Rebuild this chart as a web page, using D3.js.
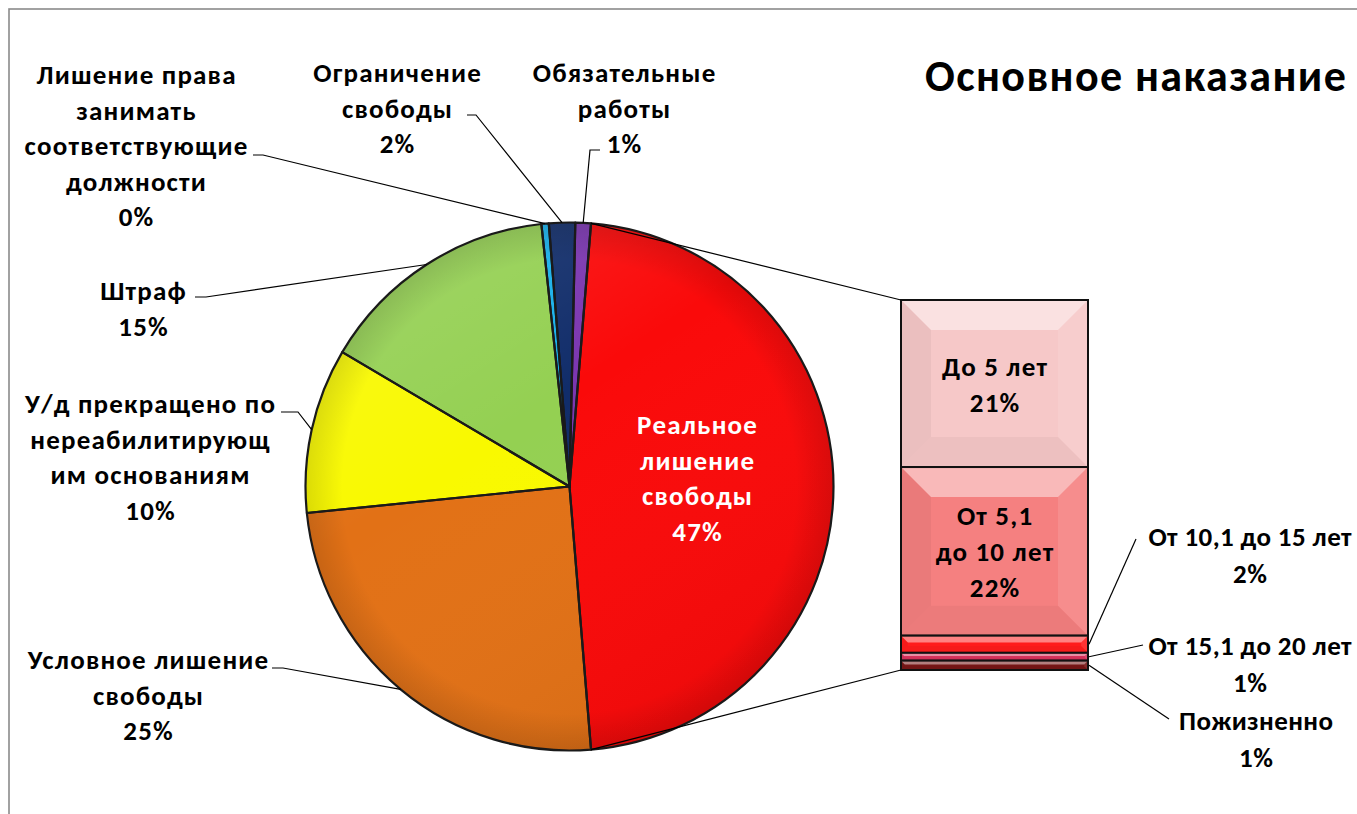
<!DOCTYPE html>
<html>
<head>
<meta charset="utf-8">
<script src="https://cdn.jsdelivr.net/npm/d3@7"></script>
<style>
  html, body { margin: 0; padding: 0; background: #fff; overflow: hidden; }
  text { font-family: Carlito, Calibri, Lato, sans-serif; font-weight: 700; }
</style>
</head>
<body>
<svg id="chart" width="1357" height="814"></svg>
<script>
// Основное наказание: доли видов наказания (круг) и сроки реального лишения свободы (столбец)
const categories = [
  "Реальное лишение свободы",
  "Условное лишение свободы",
  "У/д прекращено по нереабилитирующим основаниям",
  "Штраф",
  "Лишение права занимать соответствующие должности",
  "Ограничение свободы",
  "Обязательные работы"
];
const shares = [47.4, 24.7, 10.1, 14.8, 0.45, 1.6, 0.95];

// подписи категорий по строкам, как они переносятся в подписях данных
const categoryLines = [
  ["Реальное", "лишение", "свободы"],
  ["Условное лишение", "свободы"],
  ["У/д прекращено по", "нереабилитирующ", "им основаниям"],
  ["Штраф"],
  ["Лишение права", "занимать", "соответствующие", "должности"],
  ["Ограничение", "свободы"],
  ["Обязательные", "работы"]
];

const termCategories = ["До 5 лет", "От 5,1 до 10 лет", "От 10,1 до 15 лет", "От 15,1 до 20 лет", "Пожизненно"];
const termShares = [21.4, 21.6, 2.2, 1.0, 1.2];
const termLines = [
  ["До 5 лет"],
  ["От 5,1", "до 10 лет"],
  ["От 10,1 до 15 лет"],
  ["От 15,1 до 20 лет"],
  ["Пожизненно"]
];

const titleText = "Основное наказание";

// ---- оформление ----
const pieColors = ["#FA0A0A", "#E27116", "#F9F900", "#94D052", "#18B0EA", "#112D6A", "#7B36B0"];
const barColors = ["#F6C8C8", "#F58080", "#FF1C1C", "#D8325C", "#761616"];

const svg = d3.select("#chart");
const W = 1357, H = 814;
const cx = 569.5, cy = 486.5, R = 264;
const lineH = 35.5;
const fontSize = 27;
const letterSp = 1.2;

// рамка области диаграммы
svg.append("rect")
  .attr("x", 9).attr("y", 9).attr("width", W + 20).attr("height", H + 20)
  .attr("fill", "#fff").attr("stroke", "#8a8a8a").attr("stroke-width", 1.6);

// градиенты объёма секторов (в координатах страницы)
const defs = svg.append("defs");
const rim = defs.append("radialGradient").attr("id", "rim")
  .attr("gradientUnits", "userSpaceOnUse").attr("cx", cx).attr("cy", cy).attr("r", R);
rim.append("stop").attr("offset", 0).attr("stop-color", "#000").attr("stop-opacity", 0);
rim.append("stop").attr("offset", 0.86).attr("stop-color", "#000").attr("stop-opacity", 0);
rim.append("stop").attr("offset", 1).attr("stop-color", "#000").attr("stop-opacity", 0.12);
const sheen = defs.append("linearGradient").attr("id", "sheen")
  .attr("gradientUnits", "userSpaceOnUse")
  .attr("x1", cx - R).attr("y1", cy - R).attr("x2", cx + R * 0.3).attr("y2", cy + R);
sheen.append("stop").attr("offset", 0).attr("stop-color", "#fff").attr("stop-opacity", 0.14);
sheen.append("stop").attr("offset", 0.45).attr("stop-color", "#fff").attr("stop-opacity", 0);
sheen.append("stop").attr("offset", 1).attr("stop-color", "#000").attr("stop-opacity", 0.05);

// ---- круговая диаграмма ----
const total = d3.sum(shares);
const firstSpan = shares[0] / total * 2 * Math.PI;
const pie = d3.pie().sort(null).value(d => d)
  .startAngle(Math.PI / 2 - firstSpan / 2)
  .endAngle(Math.PI / 2 - firstSpan / 2 + 2 * Math.PI);
const arcs = pie(shares);
const arc = d3.arc().innerRadius(0).outerRadius(R);

const gPie = svg.append("g");
const place = sel => sel.attr("transform", `translate(${cx},${cy})`);

gPie.append("g").selectAll("path").data(arcs).join("path")
  .call(place).attr("d", arc).attr("fill", (d, i) => pieColors[i]);

// сектор в абсолютных координатах, чтобы градиенты легли на весь круг одинаково
const absSlice = d => {
  const p = d3.path();
  const a0 = d.startAngle - Math.PI / 2, a1 = d.endAngle - Math.PI / 2;
  p.moveTo(cx, cy);
  p.lineTo(cx + R * Math.cos(a0), cy + R * Math.sin(a0));
  p.arc(cx, cy, R, a0, a1);
  p.closePath();
  return p.toString();
};
["url(#sheen)", "url(#rim)"].forEach(f => {
  gPie.append("g").selectAll("path").data(arcs).join("path")
    .attr("d", absSlice).attr("fill", f);
});
gPie.append("g").selectAll("path").data(arcs).join("path")
  .call(place).attr("d", arc).attr("fill", "none")
  .attr("stroke", "#1a1a1a").attr("stroke-width", 2.2).attr("stroke-linejoin", "round");

const pct = v => Math.round(v / total * 100) + "%";
const polar = (a, r) => [cx + r * Math.sin(a), cy - r * Math.cos(a)];

// ---- столбец с разбивкой ----
const barX0 = 901, barX1 = 1088;
const y = d3.scaleLinear().domain([0, d3.sum(termShares)]).range([300, 670]);
let acc = 0;
const segs = termShares.map((v, i) => {
  const s = { i, v, y0: y(acc), y1: y(acc + v) };
  acc += v;
  return s;
});

// соединительные линии круга и столбца
const pTop = polar(arcs[0].startAngle, R), pBot = polar(arcs[0].endAngle, R);
svg.append("line").attr("x1", pTop[0]).attr("y1", pTop[1]).attr("x2", barX0).attr("y2", y(0))
  .attr("stroke", "#000").attr("stroke-width", 1.2);
svg.append("line").attr("x1", pBot[0]).attr("y1", pBot[1]).attr("x2", barX0).attr("y2", y(d3.sum(termShares)))
  .attr("stroke", "#000").attr("stroke-width", 1.2);

const gBar = svg.append("g");
segs.forEach(s => {
  const x0 = barX0, x1 = barX1, y0 = s.y0, y1 = s.y1;
  const h = y1 - y0, w = x1 - x0;
  const d = Math.min(30, h * 0.4, w / 2);
  const g = gBar.append("g");
  g.append("rect").attr("x", x0).attr("y", y0).attr("width", w).attr("height", h)
    .attr("fill", barColors[s.i]);
  const poly = pts => g.append("polygon").attr("points", pts.map(p => p.join(",")).join(" "));
  poly([[x0, y0], [x1, y0], [x1 - d, y0 + d], [x0 + d, y0 + d]]).attr("fill", "#fff").attr("fill-opacity", 0.45);
  poly([[x0, y0], [x0 + d, y0 + d], [x0 + d, y1 - d], [x0, y1]]).attr("fill", "#000").attr("fill-opacity", 0.045);
  poly([[x1, y0], [x1, y1], [x1 - d, y1 - d], [x1 - d, y0 + d]]).attr("fill", "#fff").attr("fill-opacity", 0.1);
  poly([[x0, y1], [x1, y1], [x1 - d, y1 - d], [x0 + d, y1 - d]]).attr("fill", "#000").attr("fill-opacity", 0.035);
  g.append("rect").attr("x", x0).attr("y", y0).attr("width", w).attr("height", h)
    .attr("fill", "none").attr("stroke", "#111").attr("stroke-width", 2);
});

// ---- подписи ----
function drawLabel(lines, x, y0, opts = {}) {
  const ls = opts.ls != null ? opts.ls : letterSp;
  const t = svg.append("text")
    .attr("text-anchor", "middle")
    .attr("font-size", opts.size || fontSize)
    .attr("letter-spacing", ls)
    .attr("fill", opts.color || "#000");
  lines.forEach((ln, k) => {
    t.append("tspan").attr("x", x + ls / 2).attr("y", y0 + k * (opts.lh || lineH)).text(ln);
  });
  return t;
}
function leader(points) {
  svg.append("path").attr("d", d3.line()(points))
    .attr("fill", "none").attr("stroke", "#000").attr("stroke-width", 1.2);
}

// расположение подписей круговой диаграммы
const pieLabelLayout = [
  { x: 697, y: 434, color: "#fff" },
  { x: 148, y: 669, from: [[272, 668], [283, 668]] },
  { x: 150, y: 413, from: [[281, 412], [298, 412]] },
  { x: 143, y: 300, from: [[195, 297], [206, 297]] },
  { x: 136, y: 84,  from: [[253, 155], [263, 155]] },
  { x: 397, y: 82,  from: [[467, 115], [476, 115]] },
  { x: 624, y: 82,  from: [[600, 150], [590, 150]] }
];
arcs.forEach((a, i) => {
  const L = pieLabelLayout[i];
  drawLabel(categoryLines[i].concat([pct(shares[i])]), L.x, L.y, { color: L.color });
  if (L.from) {
    const mid = (a.startAngle + a.endAngle) / 2;
    leader(L.from.concat([polar(mid, R)]));
  }
});

// подписи столбца
const barLabelLayout = [
  null,
  null,
  { x: 1250, y: 546, to: [1136, 539] },
  { x: 1250, y: 655, to: [1143, 645] },
  { x: 1256, y: 730, to: [1169, 719] }
];
segs.forEach(s => {
  const lines = termLines[s.i].concat([pct(s.v)]);
  const L = barLabelLayout[s.i];
  if (!L) {
    const mid = (s.y0 + s.y1) / 2;
    const first = mid - (lines.length - 1) / 2 * 36 + 10;
    drawLabel(lines, (barX0 + barX1) / 2, first, { lh: 36 });
  } else {
    drawLabel(lines, L.x, L.y, { lh: 36.5, ls: 0.4 });
    leader([[barX1 + 1, (s.y0 + s.y1) / 2], L.to]);
  }
});

// заголовок
svg.append("text").attr("x", 925).attr("y", 91)
  .attr("font-size", 44).attr("letter-spacing", 1.4).attr("fill", "#000").text(titleText);
</script>
</body>
</html>
